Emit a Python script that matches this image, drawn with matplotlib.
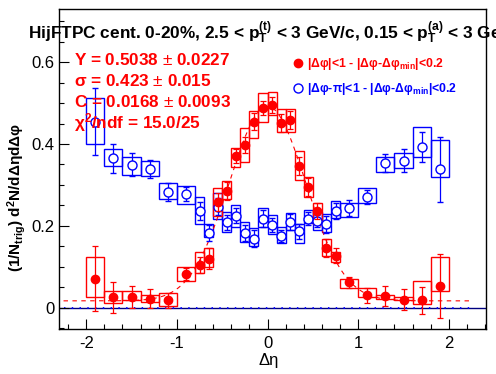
import numpy as np
import matplotlib
matplotlib.use("Agg")
import matplotlib.pyplot as plt
from matplotlib.patches import Rectangle
from matplotlib.lines import Line2D
from matplotlib.ticker import MultipleLocator

plt.rcParams['font.family'] = ['Liberation Sans', 'DejaVu Sans']
plt.rcParams['mathtext.fontset'] = 'custom'
plt.rcParams['mathtext.rm'] = 'Liberation Sans'
plt.rcParams['mathtext.bf'] = 'Liberation Sans:bold'
plt.rcParams['mathtext.it'] = 'Liberation Sans:italic'

# bin centres in delta eta
eta = [-1.9, -1.7, -1.5, -1.3, -1.1, -0.9,
       -0.75, -0.65, -0.55, -0.45, -0.35, -0.25, -0.15, -0.05,
       0.05, 0.15, 0.25, 0.35, 0.45, 0.55, 0.65, 0.75,
       0.9, 1.1, 1.3, 1.5, 1.7, 1.9]

# near side |dphi|<1
red_y = [0.071, 0.025, 0.027, 0.022, 0.018, 0.082,
         0.104, 0.120, 0.259, 0.285, 0.371, 0.398, 0.455, 0.487,
         0.495, 0.452, 0.459, 0.346, 0.294, 0.237, 0.146, 0.127,
         0.062, 0.030, 0.028, 0.020, 0.018, 0.054]
red_err = [0.080, 0.037, 0.027, 0.023, 0.018, 0.015,
           0.020, 0.025, 0.022, 0.022, 0.017, 0.019, 0.020, 0.017,
           0.020, 0.022, 0.022, 0.022, 0.022, 0.020, 0.022, 0.018,
           0.013, 0.018, 0.024, 0.026, 0.033, 0.078]
red_lo = [0.025, 0.012, 0.018, 0.014, 0.004, 0.066,
          0.084, 0.100, 0.225, 0.265, 0.345, 0.357, 0.415, 0.455,
          0.471, 0.430, 0.430, 0.312, 0.271, 0.205, 0.126, 0.112,
          0.048, 0.025, 0.022, 0.018, 0.008, 0.042]
red_hi = [0.123, 0.040, 0.040, 0.030, 0.036, 0.100,
          0.135, 0.146, 0.292, 0.310, 0.390, 0.438, 0.480, 0.525,
          0.528, 0.486, 0.486, 0.383, 0.319, 0.257, 0.168, 0.137,
          0.069, 0.047, 0.032, 0.025, 0.065, 0.123]

# away side |dphi-pi|<1
blue_y = [0.455, 0.365, 0.349, 0.339, 0.283, 0.278,
          0.237, 0.182, 0.247, 0.209, 0.225, 0.182, 0.169, 0.218,
          0.202, 0.175, 0.210, 0.187, 0.218, 0.212, 0.204, 0.237,
          0.244, 0.271, 0.354, 0.359, 0.393, 0.338]
blue_err = [0.081, 0.035, 0.028, 0.022, 0.021, 0.016,
            0.022, 0.020, 0.021, 0.018, 0.019, 0.020, 0.020, 0.020,
            0.018, 0.015, 0.020, 0.018, 0.017, 0.015, 0.021, 0.020,
            0.019, 0.017, 0.022, 0.028, 0.037, 0.080]
blue_lo = [0.400, 0.346, 0.324, 0.322, 0.265, 0.253,
           0.204, 0.172, 0.216, 0.185, 0.198, 0.160, 0.150, 0.198,
           0.180, 0.157, 0.190, 0.157, 0.206, 0.190, 0.185, 0.220,
           0.221, 0.257, 0.332, 0.341, 0.369, 0.319]
blue_hi = [0.512, 0.387, 0.368, 0.359, 0.305, 0.297,
           0.270, 0.204, 0.281, 0.235, 0.250, 0.210, 0.195, 0.243,
           0.226, 0.198, 0.232, 0.205, 0.240, 0.235, 0.228, 0.262,
           0.256, 0.292, 0.369, 0.377, 0.441, 0.410]

# fit: C + Y/(sqrt(2pi) sigma) exp(-x^2/2sigma^2)
fit_Y, fit_sigma, fit_C = 0.5038, 0.423, 0.0168

eta = np.array(eta)
width = np.where(np.abs(eta) > 0.8, 0.2, 0.1)

fig = plt.figure(figsize=(4.96, 3.74), dpi=100)
ax = fig.add_axes([59 / 496, 45 / 374, 427 / 496, 320 / 374])

red = (1, 0, 0)
blue = (0, 0, 1)

def draw_boxes(lo, hi, col):
    for x, w, a, b in zip(eta, width, lo, hi):
        ax.add_patch(Rectangle((x - w / 2, a), w, b - a, fill=False,
                               edgecolor=col, lw=1.0, zorder=2))

draw_boxes(blue_lo, blue_hi, blue)
draw_boxes(red_lo, red_hi, red)

ax.axhline(0, color='navy', lw=1.0, zorder=1)
xf = np.linspace(-2.25, 2.25, 400)
ax.plot(xf, np.zeros_like(xf), color='blue', lw=1.3, ls=(0, (0.8, 3.5)), zorder=1)
ff = fit_C + fit_Y / (np.sqrt(2 * np.pi) * fit_sigma) * np.exp(-xf ** 2 / (2 * fit_sigma ** 2))
ax.plot(xf, ff, color=red, lw=0.8, ls=(0, (4, 4)), zorder=3)

ax.errorbar(eta, blue_y, yerr=blue_err, fmt='o', ms=6.5, mfc='white', mec=blue,
            mew=1.0, ecolor=blue, elinewidth=0.9, capsize=2.5, capthick=0.9, zorder=4)
ax.errorbar(eta, red_y, yerr=red_err, fmt='o', ms=6, mfc=red, mec=red,
            ecolor=red, elinewidth=0.9, capsize=2.5, capthick=0.9, zorder=5)

ax.set_xlim(-2.3, 2.41)
ax.set_ylim(-0.052, 0.73)
ax.xaxis.set_major_locator(MultipleLocator(1))
ax.xaxis.set_minor_locator(MultipleLocator(0.2))
ax.yaxis.set_major_locator(MultipleLocator(0.2))
ax.yaxis.set_minor_locator(MultipleLocator(0.05))
ax.set_xticks([-2, -1, 0, 1, 2])
ax.set_xticklabels(['-2', '-1', '0', '1', '2'])
ax.set_yticks([0, 0.2, 0.4, 0.6])
ax.set_yticklabels(['0', '0.2', '0.4', '0.6'])
ax.tick_params(which='both', direction='in', top=False, right=False, labelsize=12)
ax.tick_params(which='major', length=7, width=0.8)
ax.tick_params(which='minor', length=3.8, width=0.8)
ax.tick_params(axis='x', pad=5)
ax.tick_params(axis='y', pad=3)
for s in ax.spines.values():
    s.set_linewidth(1.0)

fig.text(28 / 496, 1 - 39 / 374,
         r"HijFTPC cent. 0-20%, 2.5 < p$_{\mathbf{T}}^{\mathbf{(t)}}$ < 3 GeV/c, "
         r"0.15 < p$_{\mathbf{T}}^{\mathbf{(a)}}$ < 3 GeV/c",
         fontsize=12.4, fontweight='bold', va='baseline', ha='left')

fig.text(269 / 496, 1 - 361 / 374, "Δη", fontsize=12, ha='center', va='center')
fig.text(17 / 496, 1 - 197 / 374,
         r"(1/N$_{\mathbf{trig}}$) d$^{\mathbf{2}}$N/dΔηdΔφ",
         fontsize=11, fontweight='bold', rotation=90, ha='center', va='center')

fit_lines = ["Y = 0.5038 $\\pm$ 0.0227",
             "σ = 0.423 $\\pm$ 0.015",
             "C = 0.0168 $\\pm$ 0.0093",
             "χ$^{\\mathbf{2}}$/ndf = 15.0/25"]
for i, t in enumerate(fit_lines):
    fig.text(74 / 496, 1 - (60 + 21 * i) / 374, t, color=red, fontsize=12.3,
             fontweight='bold', ha='left', va='center')

handles = [Line2D([], [], ls='none', marker='o', ms=6, mfc=red, mec=red),
           Line2D([], [], ls='none', marker='o', ms=6.5, mfc='white', mec=blue, mew=1.0)]
labels = [r"|Δφ|<1 - |Δφ-Δφ$_{\mathbf{min}}$|<0.2",
          r"|Δφ-π|<1 - |Δφ-Δφ$_{\mathbf{min}}$|<0.2"]
leg = ax.legend(handles, labels, loc='upper left', frameon=False,
                bbox_to_anchor=(292 / 496, 1 - 56 / 374), bbox_transform=fig.transFigure,
                prop={'size': 8.8, 'weight': 'bold'}, handlelength=0.9,
                handletextpad=0.35, labelspacing=0.75, borderpad=0, borderaxespad=0)
leg.get_texts()[0].set_color(red)
leg.get_texts()[1].set_color(blue)

fig.savefig("out.png", dpi=100)
